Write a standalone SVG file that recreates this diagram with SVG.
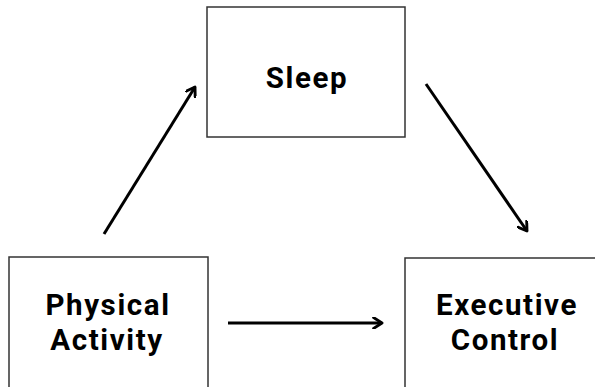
<svg xmlns="http://www.w3.org/2000/svg" width="595" height="387" viewBox="0 0 595 387">
<style>
.box{fill:#fff;stroke:#333;stroke-width:1.5}
.lbl{font-family:Roboto,"Open Sans",sans-serif;font-weight:bold;font-size:29.5px;letter-spacing:1.6px;fill:#000;text-anchor:middle}
.arr{stroke:#000;stroke-width:3;fill:none;marker-end:url(#ah)}
</style>
<defs>
<marker id="ah" markerWidth="12" markerHeight="12" refX="8" refY="5" orient="auto" markerUnits="userSpaceOnUse" viewBox="0 0 10 10">
<path d="M1,0.5 L8,5 L1,9.5" fill="none" stroke="#000" stroke-width="2.4" stroke-linecap="round" stroke-linejoin="round"/>
</marker>
</defs>
<rect width="595" height="387" fill="#fff"/>
<g id="sleep">
<rect class="box" x="207" y="7" width="198" height="130"/>
<text class="lbl" x="307" y="88">Sleep</text>
</g>
<g id="physical-activity">
<rect class="box" x="9" y="257" width="199" height="140"/>
<text class="lbl" x="108" y="315">Physical</text>
<text class="lbl" x="107" y="350">Activity</text>
</g>
<g id="executive-control">
<rect class="box" x="405" y="258" width="200" height="140"/>
<text class="lbl" x="507" y="315">Executive</text>
<text class="lbl" x="505" y="350">Control</text>
</g>
<g id="connectors">
<line class="arr" x1="104" y1="234" x2="195" y2="87"/>
<line class="arr" x1="426" y1="84" x2="527" y2="231"/>
<line class="arr" x1="228" y1="323" x2="382" y2="323"/>
</g>
</svg>
